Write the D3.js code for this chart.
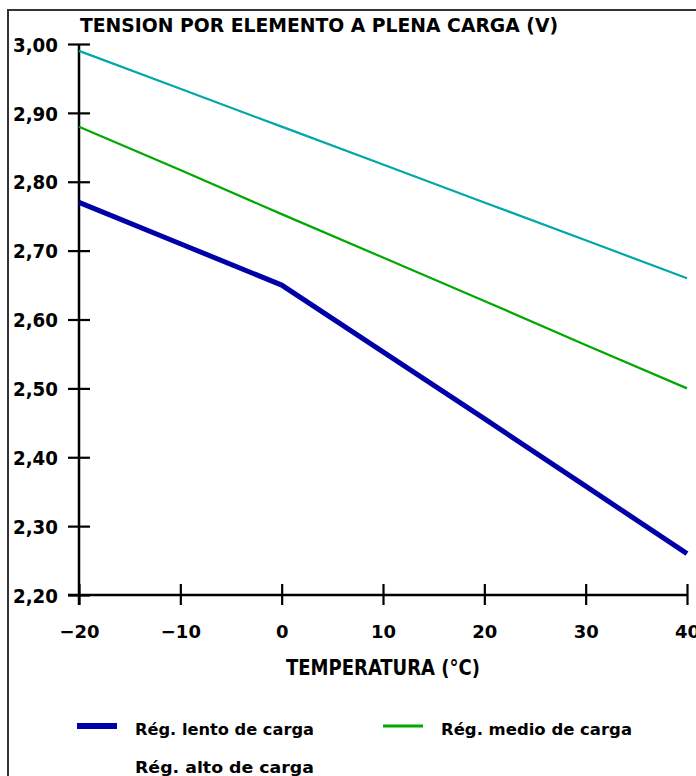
<!DOCTYPE html>
<html lang="es">
<head>
    <meta charset="UTF-8">
    <title>Tensión por elemento a plena carga</title>
    <script src="https://cdn.jsdelivr.net/npm/d3@7"></script>
    <style>
        html, body { margin: 0; padding: 0; background: #fff; overflow: hidden; }
        svg { display: block; }
        .lbl { font-family: 'DejaVu Sans', sans-serif; font-weight: bold; fill: #000; }
        .cond { font-family: 'DejaVu Sans Condensed', 'DejaVu Sans', sans-serif; font-weight: bold; fill: #000; }
    </style>
</head>
<body>
<div id="chart"></div>
<script>
    // temperature (°C) along the x axis
    const temps = [-20, -10, 0, 10, 20, 30, 40];
    // voltage per cell (V)
    const lento = [2.77, 2.71, 2.65, 2.553, 2.456, 2.358, 2.26];
    const medio = [2.88, 2.817, 2.753, 2.69, 2.627, 2.563, 2.50];
    const alto  = [2.99, 2.935, 2.88, 2.825, 2.77, 2.715, 2.66];

    const yTicks = [2.2, 2.3, 2.4, 2.5, 2.6, 2.7, 2.8, 2.9, 3.0];
    const xTicks = [-20, -10, 0, 10, 20, 30, 40];

    const seriesNames = ['Rég. lento de carga', 'Rég. medio de carga', 'Rég. alto de carga'];
    const seriesColors = ['#0000a8', '#00a800', '#00a8a8'];
    const seriesWidths = [5, 2.2, 2.2];

    const width = 696, height = 776;

    const svg = d3.select('#chart').append('svg')
        .attr('width', width)
        .attr('height', height);

    // frame of the drawing sheet (only top and left edges are visible)
    svg.append('path')
        .attr('d', `M8,${height} L8,10 L${width},10`)
        .attr('fill', 'none')
        .attr('stroke', '#333')
        .attr('stroke-width', 2);

    const x = d3.scaleLinear().domain([-20, 40]).range([79, 687]);
    const y = d3.scaleLinear().domain([2.2, 3.0]).range([595, 44]);

    // title
    svg.append('text')
        .attr('class', 'lbl')
        .attr('x', 80).attr('y', 32)
        .attr('font-size', 20)
        .attr('textLength', 478)
        .attr('lengthAdjust', 'spacingAndGlyphs')
        .text('TENSION POR ELEMENTO A PLENA CARGA (V)');

    // y axis
    const yAxis = svg.append('g')
        .attr('transform', `translate(${x(-20)},0)`)
        .call(d3.axisLeft(y).tickValues(yTicks).tickSize(11).tickPadding(10)
            .tickFormat(d => d.toFixed(2).replace('.', ',')));
    yAxis.select('.domain').remove();
    yAxis.selectAll('.tick line')
        .attr('x1', -11).attr('x2', 11)
        .attr('stroke', '#000').attr('stroke-width', 2.2);
    yAxis.selectAll('.tick text')
        .attr('class', 'lbl')
        .attr('font-size', 20)
        .attr('x', -21)
        .attr('dy', '0.36em')
        .attr('textLength', 45)
        .attr('lengthAdjust', 'spacingAndGlyphs');

    // x axis
    const xAxis = svg.append('g')
        .attr('transform', `translate(0,${y(2.2)})`)
        .call(d3.axisBottom(x).tickValues(xTicks).tickSize(10).tickPadding(0)
            .tickFormat(d => d < 0 ? '\u2212' + Math.abs(d) : d));
    xAxis.select('.domain').remove();
    xAxis.selectAll('.tick line')
        .attr('y1', -11).attr('y2', 10)
        .attr('stroke', '#000').attr('stroke-width', 2.2);
    xAxis.selectAll('.tick text')
        .attr('class', 'lbl')
        .attr('font-size', 18)
        .attr('y', 43)
        .attr('dy', 0);

    // axis lines
    svg.append('line')
        .attr('x1', x(-20)).attr('x2', x(-20))
        .attr('y1', y(3.0)).attr('y2', y(2.2) + 10)
        .attr('stroke', '#000').attr('stroke-width', 2.5);
    svg.append('line')
        .attr('x1', x(-20) - 11).attr('x2', x(40))
        .attr('y1', y(2.2)).attr('y2', y(2.2))
        .attr('stroke', '#000').attr('stroke-width', 2.5);

    // x axis title
    svg.append('text')
        .attr('class', 'cond')
        .attr('x', 286).attr('y', 675)
        .attr('font-size', 22)
        .attr('textLength', 194)
        .attr('lengthAdjust', 'spacingAndGlyphs')
        .text('TEMPERATURA (\u00b0C)');

    // curves
    const series = [lento, medio, alto];
    const line = d3.line()
        .x((d, i) => x(temps[i]))
        .y(d => y(d));

    svg.selectAll('.curve')
        .data(series)
        .enter()
        .append('path')
        .attr('class', 'curve')
        .attr('d', line)
        .attr('fill', 'none')
        .attr('stroke', (d, i) => seriesColors[i])
        .attr('stroke-width', (d, i) => seriesWidths[i]);

    // legend
    const legendPos = [
        { sx: 77, ty: 735, swatch: true },
        { sx: 383, ty: 735, swatch: true },
        { sx: 77, ty: 773, swatch: false }
    ];
    const legendLen = [179, 191, 179];

    const legend = svg.selectAll('.legend')
        .data(seriesNames)
        .enter()
        .append('g')
        .attr('class', 'legend');

    legend.filter((d, i) => legendPos[i].swatch)
        .append('line')
        .attr('x1', (d, i) => legendPos[i].sx)
        .attr('x2', (d, i) => legendPos[i].sx + 40)
        .attr('y1', (d, i) => legendPos[i].ty - 9)
        .attr('y2', (d, i) => legendPos[i].ty - 9)
        .attr('stroke', (d, i) => seriesColors[i])
        .attr('stroke-width', (d, i) => i === 0 ? 6 : 3);

    legend.append('text')
        .attr('class', 'lbl')
        .attr('x', (d, i) => legendPos[i].sx + 58)
        .attr('y', (d, i) => legendPos[i].ty)
        .attr('font-size', 15)
        .attr('textLength', (d, i) => legendLen[i])
        .attr('lengthAdjust', 'spacingAndGlyphs')
        .text(d => d);
</script>
</body>
</html>
